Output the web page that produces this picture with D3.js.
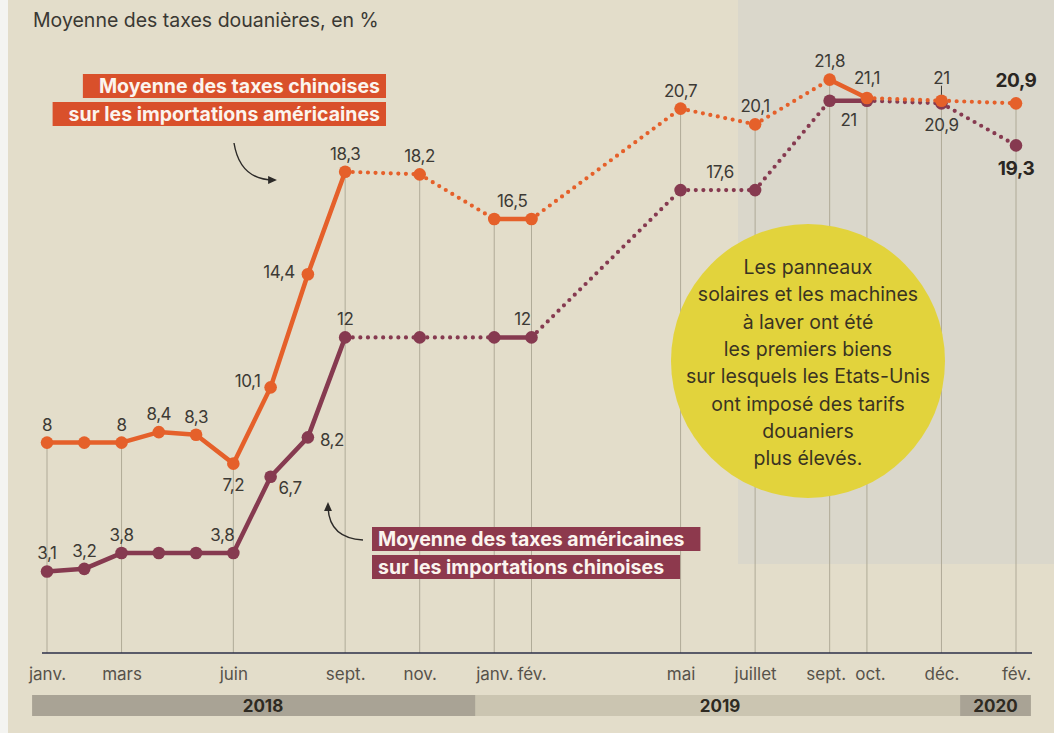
<!DOCTYPE html>
<html>
<head>
<meta charset="utf-8">
<script src="https://cdn.jsdelivr.net/npm/d3@7"></script>
<style>
  body { margin: 0; background: #e3ddca; }
  svg { display: block; font-family: Inter, "Open Sans", sans-serif; }
</style>
</head>
<body>
<div id="chart"></div>
<script>
// month slots (the paper stretches fev->mai over 4 slots)
const months = ['janv.', 'févr.', 'mars', 'avr.', 'mai', 'juin', 'juil.', 'août', 'sept.', 'nov.', 'janv.', 'fév.', 'mai', 'juillet', 'sept.', 'oct.', 'déc.', 'fév.'];
const slots = [0, 1, 2, 3, 4, 5, 6, 7, 8, 10, 12, 13, 17, 19, 21, 22, 24, 26];
const tickIdx = [0, 2, 5, 8, 9, 10, 11, 12, 13, 14, 15, 16, 17];

const chinaTaxes = [8, 8, 8, 8.4, 8.3, 7.2, 10.1, 14.4, 18.3, 18.2, 16.5, 16.5, 20.7, 20.1, 21.8, 21.1, 21, 20.9];
const usTaxes = [3.1, 3.2, 3.8, 3.8, 3.8, 3.8, 6.7, 8.2, 12, 12, 12, 12, 17.6, 17.6, 21, 21, 20.9, 19.3];

const chinaLabels = ['8', null, '8', '8,4', '8,3', '7,2', '10,1', '14,4', '18,3', '18,2', '16,5', null, '20,7', '20,1', '21,8', '21,1', '21', '20,9'];
const usLabels = ['3,1', '3,2', '3,8', null, null, '3,8', '6,7', '8,2', '12', null, null, '12', null, '17,6', '21', null, '20,9', '19,3'];

const years = ['2018', '2019', '2020'];
const yearFrom = [-0.4, 11.5, 24.5];
const yearTo = [11.5, 24.5, 26.4];

const width = 1054, height = 733;
const orange = '#e5602a', purple = '#863a50';

const svg = d3.select('#chart').append('svg')
    .attr('width', width).attr('height', height);

// paper background
svg.append('rect').attr('width', width).attr('height', height).attr('fill', '#e3ddca');
svg.append('rect').attr('x', 738).attr('y', 0).attr('width', 316).attr('height', 564).attr('fill', '#dad7cb');
svg.append('rect').attr('x', 0).attr('y', 0).attr('width', 8).attr('height', height).attr('fill', '#f4f4f1');

const x = d3.scaleLinear([0, 26], [47, 1016]);
const y = d3.scaleLinear([0, 22], [653, 653 - 22 * 26.3]);

const pts = (vals) => vals.map((v, i) => ({i, s: slots[i], v}));
const china = pts(chinaTaxes), us = pts(usTaxes);

// vertical grid lines at labelled months, from highest point down
svg.append('g').selectAll('line').data(tickIdx).join('line')
    .attr('x1', i => x(slots[i])).attr('x2', i => x(slots[i]))
    .attr('y1', i => y(Math.max(chinaTaxes[i], usTaxes[i])))
    .attr('y2', y(0))
    .attr('stroke', '#aaa592').attr('stroke-width', 0.9);

// axis
const axis = svg.append('g').attr('transform', `translate(0,${y(0)})`)
    .call(d3.axisBottom(x).tickValues(tickIdx.map(i => slots[i]))
        .tickFormat(s => months[slots.indexOf(s)]).tickSize(0).tickPadding(15));
axis.select('.domain').attr('d', 'M42,0H1032').attr('stroke', '#2d2f48').attr('stroke-width', 1.6);
axis.selectAll('text').attr('font-size', 17).attr('fill', '#57524a').attr('font-family', 'Inter, sans-serif')
    .attr('dx', s => s === 21 ? -4 : s === 22 ? 3 : 0);

// year band
const yb = svg.append('g');
yb.selectAll('rect').data(years).join('rect')
    .attr('x', (d, k) => x(yearFrom[k])).attr('width', (d, k) => x(yearTo[k]) - x(yearFrom[k]))
    .attr('y', 695).attr('height', 21)
    .attr('fill', (d, k) => k === 1 ? '#cbc5b1' : '#a9a395');
yb.selectAll('text').data(years).join('text')
    .attr('x', (d, k) => k === 0 ? 263 : k === 1 ? 720 : (x(yearFrom[k]) + x(yearTo[k])) / 2)
    .attr('y', 712).attr('text-anchor', 'middle')
    .attr('font-size', 17).attr('font-weight', 700).attr('fill', '#2e2a22')
    .text(d => d);

// lines: solid between consecutive months, dotted over gaps
function drawSeries(data, color) {
    const segs = d3.pairs(data);
    const g = svg.append('g');
    g.selectAll('line').data(segs).join('line')
        .attr('x1', d => x(d[0].s)).attr('y1', d => y(d[0].v))
        .attr('x2', d => x(d[1].s)).attr('y2', d => y(d[1].v))
        .attr('stroke', color)
        .attr('stroke-linecap', 'round')
        .attr('stroke-width', d => d[1].s - d[0].s > 1 ? 4.2 : 4.5)
        .attr('stroke-dasharray', d => d[1].s - d[0].s > 1 ? '0 7.6' : null);
    g.selectAll('circle').data(data).join('circle')
        .attr('cx', d => x(d.s)).attr('cy', d => y(d.v)).attr('r', 6.3)
        .attr('fill', color);
}
drawSeries(us, purple);
drawSeries(china, orange);

// value labels, placement tuned per point
const chinaPlace = {5: [0, 27], 6: [-10, 0, 'end'], 7: [-13, 4, 'end'], 10: [18, -12], 14: [0, -13], 15: [0, -14], 16: [0, -17], 17: [0, -16]};
const usPlace = {5: [-11, -12], 6: [8, 17, 'start'], 7: [12, 9, 'start'], 11: [-9, -12], 13: [-35, -12], 14: [19, 25], 16: [0, 28], 17: [0, 30]};

function drawLabels(data, labels, place, boldIdx) {
    svg.append('g').selectAll('text')
        .data(data.filter(d => labels[d.i] !== null)).join('text')
        .attr('x', d => x(d.s) + (place[d.i] ? place[d.i][0] : 0))
        .attr('y', d => y(d.v) + (place[d.i] ? place[d.i][1] : -12))
        .attr('text-anchor', d => place[d.i] && place[d.i][2] ? place[d.i][2] : 'middle')
        .attr('font-size', d => d.i === boldIdx ? 19 : 17)
        .attr('font-weight', d => d.i === boldIdx ? 700 : 400)
        .attr('fill', d => d.i === boldIdx ? '#2a2622' : '#3d3a35')
        .attr('letter-spacing', -0.4)
        .text(d => labels[d.i]);
}
drawLabels(china, chinaLabels, chinaPlace, 17);
drawLabels(us, usLabels, usPlace, 17);

// little leader for the "21" of december
svg.append('line')
    .attr('x1', x(slots[16])).attr('x2', x(slots[16]))
    .attr('y1', y(chinaTaxes[16]) - 15).attr('y2', y(chinaTaxes[16]) - 6)
    .attr('stroke', '#3d3a35').attr('stroke-width', 1);

// title
svg.append('text').attr('x', 33).attr('y', 27)
    .attr('font-size', 19.5).attr('fill', '#3a3833')
    .text('Moyenne des taxes douanières, en %');

// highlighted legend boxes
function boxLabel(lines, color, anchor, ax, baselines) {
    const g = svg.append('g');
    lines.forEach((t, k) => {
        const txt = g.append('text')
            .attr('x', ax).attr('y', baselines[k])
            .attr('text-anchor', anchor)
            .attr('font-size', 19.5).attr('font-weight', 700).attr('fill', '#fbf4ee')
            .text(t);
        const w = txt.node().getComputedTextLength();
        const bx = anchor === 'end' ? ax - w - 16 : ax - 6;
        g.insert('rect', 'text')
            .attr('x', bx).attr('y', baselines[k] - 19)
            .attr('width', w + 22).attr('height', 24)
            .attr('fill', color);
    });
}
boxLabel(['Moyenne des taxes chinoises', 'sur les importations américaines'], '#d9502b', 'end', 380, [93, 121]);
boxLabel(['Moyenne des taxes américaines', 'sur les importations chinoises'], '#8d394d', 'start', 378, [546, 574]);

// arrows
const defs = svg.append('defs');
defs.append('marker').attr('id', 'ah').attr('viewBox', '0 0 10 10')
    .attr('refX', 6).attr('refY', 5).attr('markerWidth', 7).attr('markerHeight', 7)
    .attr('orient', 'auto')
    .append('path').attr('d', 'M0,1L9,5L0,9Z').attr('fill', '#2c2a28');
svg.append('path').attr('d', 'M234,143 Q240,180 274,180')
    .attr('fill', 'none').attr('stroke', '#2c2a28').attr('stroke-width', 1.4)
    .attr('marker-end', 'url(#ah)');
svg.append('path').attr('d', 'M363,540 Q328,538 328,505')
    .attr('fill', 'none').attr('stroke', '#2c2a28').attr('stroke-width', 1.4)
    .attr('marker-end', 'url(#ah)');

// yellow note
const note = ['Les panneaux', 'solaires et les machines', 'à laver ont été', 'les premiers biens',
    'sur lesquels les Etats-Unis', 'ont imposé des tarifs', 'douaniers', 'plus élevés.'];
svg.append('circle').attr('cx', 808).attr('cy', 361).attr('r', 137).attr('fill', '#e2d33c');
svg.append('g').selectAll('text').data(note).join('text')
    .attr('x', 808).attr('y', (d, k) => 274 + k * 27.3)
    .attr('text-anchor', 'middle').attr('font-size', 19.5).attr('fill', '#3a3322')
    .text(d => d);
</script>
</body>
</html>
